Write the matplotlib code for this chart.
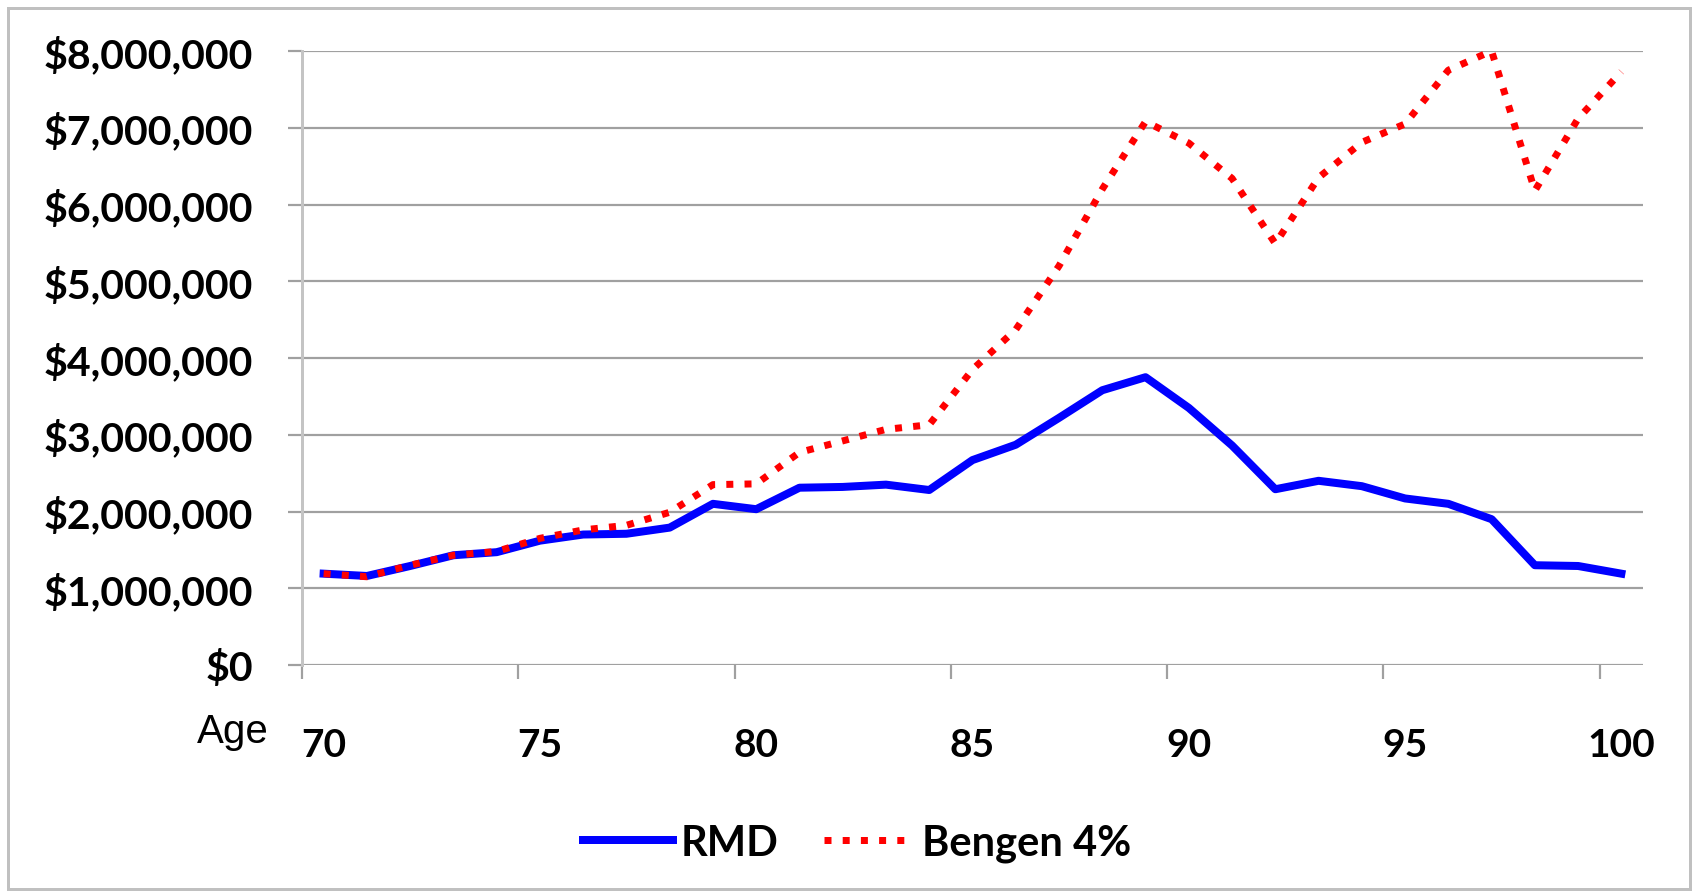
import matplotlib
matplotlib.use("Agg")
import matplotlib.pyplot as plt
import numpy as np
from matplotlib.ticker import FuncFormatter, FixedLocator
from matplotlib.lines import Line2D
from matplotlib.patches import Rectangle

ages = list(range(70, 101))
rmd = [1.19, 1.16, 1.29, 1.43, 1.47, 1.62, 1.70, 1.71, 1.79, 2.10, 2.03, 2.31, 2.32, 2.35, 2.28,
       2.67, 2.87, 3.22, 3.58, 3.75, 3.35, 2.86, 2.29, 2.40, 2.33, 2.17, 2.10, 1.90, 1.30, 1.29, 1.19]
bengen = [1.19, 1.15, 1.30, 1.43, 1.48, 1.65, 1.76, 1.82, 1.99, 2.35, 2.36, 2.77, 2.92, 3.07, 3.13,
          3.85, 4.37, 5.20, 6.20, 7.08, 6.80, 6.34, 5.49, 6.35, 6.81, 7.05, 7.75, 8.00, 6.18, 7.12, 7.73]
rmd = [v * 1e6 for v in rmd]
bengen = [v * 1e6 for v in bengen]
series_names = ["RMD", "Bengen 4%"]
y_ticks = [i * 1e6 for i in range(0, 9)]
label_ages = [70, 75, 80, 85, 90, 95, 100]

DPI = 100
W, H = 1694, 895
fig = plt.figure(figsize=(W / DPI, H / DPI), dpi=DPI)
fig.patch.set_facecolor("white")

left, right, top, bottom = 302, 1643, 52, 666
ax = fig.add_axes([left / W, 1 - bottom / H, (right - left) / W, (bottom - top) / H])

px = 72.0 / DPI  # points per pixel
x = np.arange(len(ages))

blue_lw = 8 * px
red_lw = 7 * px
ax.plot(x, rmd, color="#0000ff", lw=blue_lw, solid_joinstyle="round", zorder=3)
ax.plot(x, bengen, color="#ff0000", lw=red_lw, dashes=(1, 1.6), dash_capstyle="butt", zorder=4)

ax.set_xlim(-0.5, len(ages) - 0.5)
ax.set_ylim(0, 8e6)

grid_col = "#a0a0a0"
ax.set_yticks(y_ticks)
ax.yaxis.set_major_formatter(FuncFormatter(lambda v, p: "${:,.0f}".format(v)))
ax.yaxis.grid(True, color=grid_col, lw=2.2 * px, zorder=1)
ax.set_axisbelow(True)

# x labels at category centres, boundary ticks as minor ticks
pos = [ages.index(a) for a in label_ages]
ax.set_xticks(pos)
ax.set_xticklabels([str(a) for a in label_ages])
ax.xaxis.set_minor_locator(FixedLocator([p - 0.5 for p in range(0, len(ages), 5)]))

for lab in ax.get_yticklabels():
    lab.set_fontfamily("Lato")
    lab.set_fontweight("bold")
    lab.set_fontsize(29.5)
    lab.set_color("black")
for lab in ax.get_xticklabels():
    lab.set_fontfamily("Lato")
    lab.set_fontweight("bold")
    lab.set_fontsize(28)
    lab.set_color("black")

ax.tick_params(axis="y", which="major", length=14 * px, width=2.2 * px, color=grid_col,
               direction="out", pad=25)
ax.tick_params(axis="x", which="major", length=0, pad=45)
ax.tick_params(axis="x", which="minor", length=14 * px, width=2.2 * px, color=grid_col,
               direction="out")

for s in ["top", "right", "bottom"]:
    ax.spines[s].set_visible(False)
ax.spines["left"].set_color("#c4c4c4")
ax.spines["left"].set_linewidth(3 * px)
ax.spines["left"].set_zorder(2)

# Age label
fig.text(233 / W, 1 - 743 / H, "Age", ha="center", va="baseline",
         family="Liberation Sans", fontsize=29, color="black")

# legend
handles = [Line2D([0], [0], color="#0000ff", lw=blue_lw),
           Line2D([0], [0], color="#ff0000", lw=red_lw, dashes=(1, 1.6), dash_capstyle="butt")]
leg = fig.legend(handles, series_names, loc="center", bbox_to_anchor=(857 / W, 1 - 844 / H),
                 ncol=2, frameon=False, handlelength=2.15, handletextpad=0.2,
                 columnspacing=1.08, prop=dict(family="Lato", weight="bold", size=30))

# chart frame
fig.patches.append(Rectangle((8 / W, 5 / H), (1690 - 8) / W, (886 - 5) / H,
                             transform=fig.transFigure, fill=False,
                             edgecolor="#c0c0c0", lw=3 * px, zorder=0))

fig.savefig("out.png", dpi=DPI, facecolor="white")
